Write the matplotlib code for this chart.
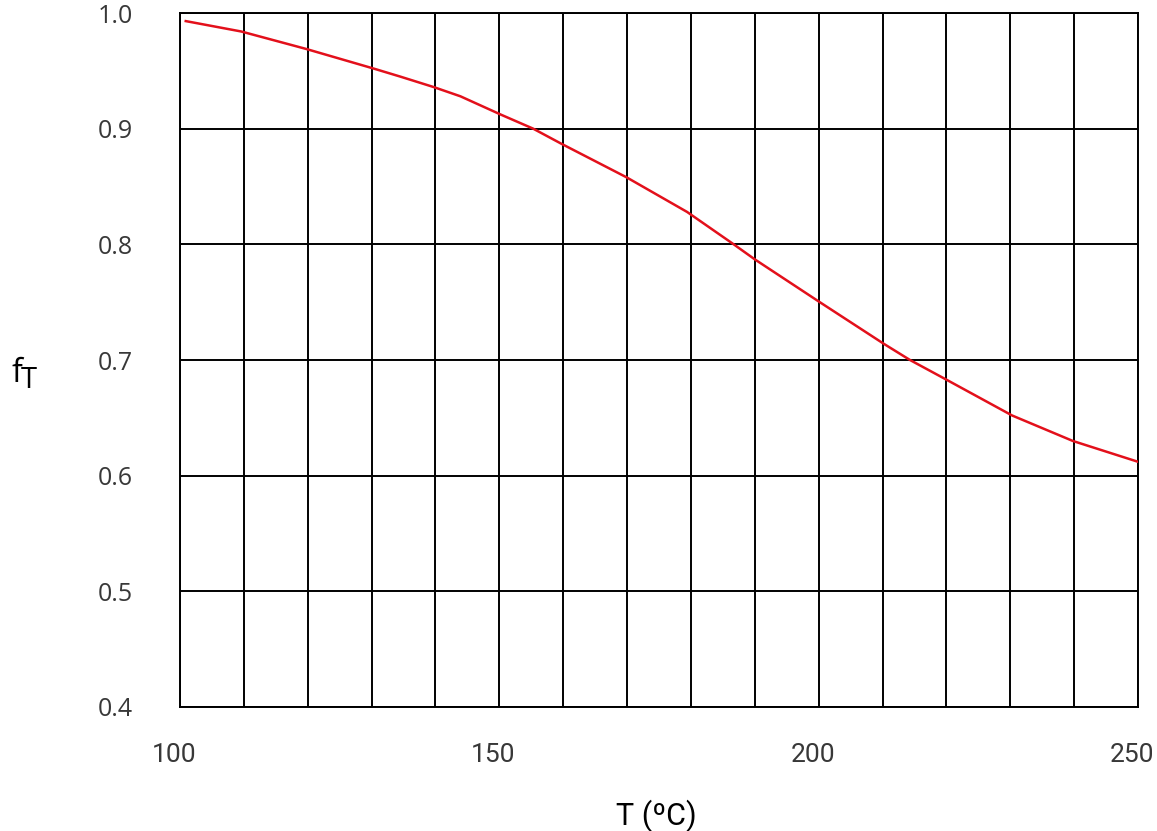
import matplotlib
matplotlib.use("Agg")
import matplotlib.pyplot as plt
import matplotlib.transforms as mtransforms

RED   = "#E3101B"
BLACK = "#000000"
TEXT  = "#383838"

# curve
temps = [100.9, 109.6, 119.7, 130.3, 134.5, 139.7, 143.9, 150.3, 155.3, 159.7,
         169.9, 179.4, 186.7, 190.0, 199.9, 210.2, 214.3, 220.0, 230.3, 239.8, 250.0]
f_t   = [0.993, 0.984, 0.969, 0.952, 0.945, 0.936, 0.928, 0.912, 0.900, 0.887,
         0.858, 0.828, 0.800, 0.787, 0.751, 0.714, 0.700, 0.683, 0.652, 0.630, 0.612]

x_grid   = list(range(100, 251, 10))
x_labels = [str(v) if v % 50 == 0 else "" for v in x_grid]
y_ticks  = [0.4, 0.5, 0.6, 0.7, 0.8, 0.9, 1.0]
y_labels = [f"{v:.1f}" for v in y_ticks]

fig = plt.figure(figsize=(11.57, 8.31), dpi=100)
fig.patch.set_facecolor("white")
ax = fig.add_axes([180 / 1157, 1 - 707 / 831, 958 / 1157, 694 / 831])

ax.plot(temps, f_t, color=RED, lw=1.8, zorder=3)

ax.set_xlim(100, 250)
ax.set_ylim(0.4, 1.0)
ax.set_xticks(x_grid)
ax.set_xticklabels(x_labels, fontsize=19, color=TEXT, family="Roboto")
ax.set_yticks(y_ticks)
ax.set_yticklabels(y_labels, fontsize=18, color=TEXT, family="Open Sans")
ax.tick_params(axis="both", length=0)
ax.tick_params(axis="x", pad=26)
ax.tick_params(axis="y", pad=34)
ax.grid(True, color=BLACK, lw=1.4)
ax.set_axisbelow(True)
for s in ax.spines.values():
    s.set_color(BLACK)
    s.set_linewidth(1.4)

# x labels sit a little left of their grid lines in the original
shift = mtransforms.ScaledTranslation(-6 / 100, 0, fig.dpi_scale_trans)
for lbl in ax.get_xticklabels():
    lbl.set_transform(lbl.get_transform() + shift)

fig.text(656 / 1157, 1 - 825 / 831, "T (ºC)", ha="center", va="baseline",
         fontsize=22, color=BLACK, family="Roboto")
fig.text(12 / 1157, 1 - 382 / 831, "f", ha="left", va="baseline",
         fontsize=23, color=BLACK, family="Open Sans")
fig.text(21 / 1157, 1 - 388 / 831, "T", ha="left", va="baseline",
         fontsize=21, color=BLACK, family="Open Sans")

fig.savefig("out.png", dpi=100, facecolor="white")
